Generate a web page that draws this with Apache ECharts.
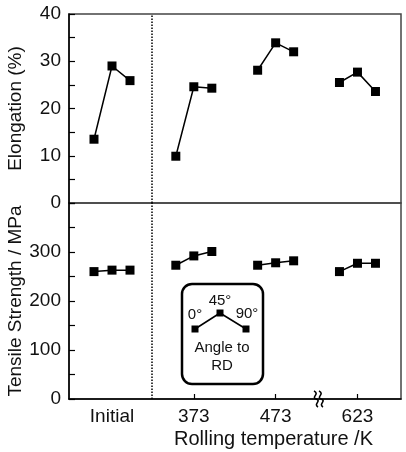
<!DOCTYPE html>
<html>
<head>
<meta charset="utf-8">
<script src="https://cdn.jsdelivr.net/npm/echarts@6/dist/echarts.min.js"></script>
<style>
html,body{margin:0;padding:0;background:#fff}
#chart{width:406px;height:452px}
</style>
</head>
<body>
<div id="chart"></div>
<script>
// rolling temperature groups, three tensile directions per group
var groups = ['Initial', '373', '473', '623'];
var groupPos = [1, 2, 3, 4];
var angles = ['0°', '45°', '90°'];
var angleOffset = [-0.22, 0, 0.22];
// Elongation (%) per group: 0°, 45°, 90°
var elongation = [
  [13.5, 29.0, 25.9],
  [9.9, 24.6, 24.3],
  [28.1, 33.9, 32.0],
  [25.5, 27.7, 23.6]
];
// Tensile strength (MPa) per group: 0°, 45°, 90°
var tensile = [
  [260, 263, 263],
  [273, 292, 301],
  [273, 278, 282],
  [260, 277, 277]
];
var dividerPos = 1.48;

var FONT = 'Liberation Sans';
var chart = echarts.init(document.getElementById('chart'));

function makeSeries(values, idx) {
  return groups.map(function (g, i) {
    var s = {
      type: 'line', name: g, xAxisIndex: idx, yAxisIndex: idx,
      data: values[i].map(function (v, j) { return [groupPos[i] + angleOffset[j], v]; }),
      symbol: 'rect', symbolSize: 9,
      lineStyle: {color: '#000', width: 1.5},
      itemStyle: {color: '#000'},
      animation: false, silent: true
    };
    if (i === 0) {
      s.markLine = {
        silent: true, symbol: 'none', animation: false,
        label: {show: false},
        lineStyle: {type: 'dotted', color: '#000', width: 1.5},
        data: [{xAxis: dividerPos}]
      };
    }
    return s;
  });
}

function yAxis(idx, max, interval, name) {
  return {
    type: 'value', gridIndex: idx, min: 0, max: max, interval: interval,
    name: name, nameLocation: 'middle', nameGap: 44, nameMoveOverlap: false,
    nameTextStyle: {fontFamily: FONT, fontSize: 19, color: '#111'},
    axisLine: {show: true, lineStyle: {color: '#000', width: 1.5}},
    axisTick: {show: true, inside: true, length: 6, lineStyle: {color: '#000', width: 1.2}},
    minorTick: {show: true, splitNumber: 2, length: 6, lineStyle: {color: '#000', width: 1.2}},
    axisLabel: {fontFamily: FONT, fontSize: 19, color: '#111', margin: 8, showMaxLabel: idx === 0},
    splitLine: {show: false}
  };
}

function wave(dx) {
  var x = 314 + dx;
  return [
    {type: 'bezierCurve', silent: true,
     shape: {x1: x, y1: 391, cpx1: x + 6, cpy1: 394, cpx2: x - 3, cpy2: 397, x2: x + 2, y2: 399},
     style: {stroke: '#000', fill: null, lineWidth: 1.6}},
    {type: 'bezierCurve', silent: true,
     shape: {x1: x + 2, y1: 399, cpx1: x + 8, cpy1: 401, cpx2: x - 1, cpy2: 404, x2: x + 4, y2: 407},
     style: {stroke: '#000', fill: null, lineWidth: 1.6}}
  ];
}

var option = {
  backgroundColor: '#fff',
  animation: false,
  grid: [
    {left: 69, top: 14, width: 332, height: 189, show: true, borderColor: '#444', borderWidth: 1.5, outerBoundsMode: 'none', containLabel: false},
    {left: 69, top: 203, width: 332, height: 196, show: true, borderColor: '#444', borderWidth: 1.5, outerBoundsMode: 'none', containLabel: false}
  ],
  xAxis: [
    {type: 'value', gridIndex: 0, min: 0.4745, max: 4.532, show: false},
    {
      type: 'value', gridIndex: 1, min: 0.4745, max: 4.532,
      axisLine: {show: true, lineStyle: {color: '#000', width: 1.5}},
      axisTick: {show: true, inside: true, length: 5, customValues: [2, 3, 4], lineStyle: {color: '#000', width: 1.2}},
      axisLabel: {
        fontFamily: FONT, fontSize: 19, color: '#111', margin: 8,
        customValues: groupPos,
        formatter: function (v) { return groups[groupPos.indexOf(Math.round(v))] || ''; }
      },
      splitLine: {show: false}
    }
  ],
  yAxis: [
    yAxis(0, 40, 10, 'Elongation (%)'),
    yAxis(1, 400, 100, 'Tensile Strength / MPa')
  ],
  series: makeSeries(elongation, 0).concat(makeSeries(tensile, 1)),
  graphic: [
    {
      type: 'text', left: 174, top: 429, silent: true,
      style: {text: 'Rolling temperature /K', font: '20px "Liberation Sans"', fill: '#111'}
    },
    // legend box
    {
      type: 'group', silent: true,
      children: [
        {type: 'rect', shape: {x: 182, y: 284, width: 81, height: 100, r: 10}, style: {stroke: '#000', fill: '#fff', lineWidth: 2.5}},
        {type: 'polyline', shape: {points: [[195, 329], [220, 313], [246, 329]]}, style: {stroke: '#000', lineWidth: 1.5, fill: null}},
        {type: 'rect', shape: {x: 191.5, y: 325.5, width: 7, height: 7}, style: {fill: '#000'}},
        {type: 'rect', shape: {x: 216.5, y: 309.5, width: 7, height: 7}, style: {fill: '#000'}},
        {type: 'rect', shape: {x: 242.5, y: 325.5, width: 7, height: 7}, style: {fill: '#000'}},
        {type: 'text', x: 195, y: 315, style: {text: angles[0], font: '15px "Liberation Sans"', fill: '#111', align: 'center', verticalAlign: 'middle'}},
        {type: 'text', x: 220, y: 301, style: {text: angles[1], font: '15px "Liberation Sans"', fill: '#111', align: 'center', verticalAlign: 'middle'}},
        {type: 'text', x: 247, y: 314, style: {text: angles[2], font: '15px "Liberation Sans"', fill: '#111', align: 'center', verticalAlign: 'middle'}},
        {type: 'text', x: 222, y: 348, style: {text: 'Angle to', font: '15px "Liberation Sans"', fill: '#111', align: 'center', verticalAlign: 'middle'}},
        {type: 'text', x: 222, y: 366, style: {text: 'RD', font: '15px "Liberation Sans"', fill: '#111', align: 'center', verticalAlign: 'middle'}}
      ]
    }
  ].concat(wave(0), wave(5))
};
chart.setOption(option);
</script>
</body>
</html>
